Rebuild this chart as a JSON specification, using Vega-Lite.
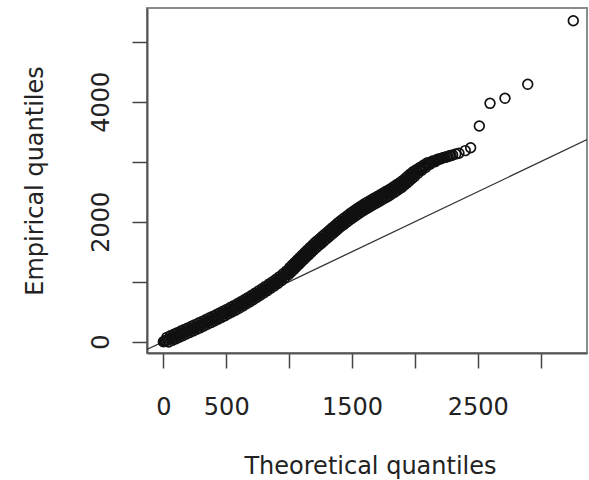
{
  "$schema": "https://vega.github.io/schema/vega-lite/v6.json",
  "width": 440,
  "height": 345,
  "autosize": "none",
  "padding": {"left": 147, "top": 8, "right": 2, "bottom": 127},
  "background": "white",
  "config": {"view": {"stroke": "#8c8c8c", "strokeWidth": 2}, "font": "DejaVu Sans"},
  "datasets": {
    "pts": [
      {"t":0,"e":0},{"t":14,"e":13},{"t":28,"e":72},{"t":42,"e":-5},{"t":56,"e":98},{"t":70,"e":22},{"t":84,"e":125},{"t":98,"e":48},{"t":112,"e":151},{"t":126,"e":75},
      {"t":140,"e":178},{"t":154,"e":101},{"t":168,"e":205},{"t":182,"e":128},{"t":196,"e":231},{"t":210,"e":155},{"t":224,"e":258},{"t":238,"e":181},{"t":252,"e":285},{"t":266,"e":208},
      {"t":280,"e":311},{"t":294,"e":234},{"t":308,"e":338},{"t":322,"e":262},{"t":336,"e":366},{"t":350,"e":290},{"t":364,"e":394},{"t":378,"e":318},{"t":392,"e":422},{"t":406,"e":346},
      {"t":420,"e":450},{"t":434,"e":375},{"t":448,"e":480},{"t":462,"e":405},{"t":476,"e":510},{"t":490,"e":434},{"t":504,"e":539},{"t":518,"e":465},{"t":532,"e":570},{"t":546,"e":496},
      {"t":560,"e":601},{"t":574,"e":526},{"t":588,"e":632},{"t":602,"e":557},{"t":616,"e":665},{"t":630,"e":593},{"t":644,"e":700},{"t":658,"e":628},{"t":672,"e":735},{"t":686,"e":663},
      {"t":700,"e":770},{"t":714,"e":699},{"t":728,"e":808},{"t":742,"e":737},{"t":756,"e":846},{"t":770,"e":775},{"t":784,"e":884},{"t":798,"e":812},{"t":812,"e":922},{"t":826,"e":852},
      {"t":840,"e":961},{"t":854,"e":891},{"t":868,"e":1000},{"t":882,"e":930},{"t":896,"e":1040},{"t":910,"e":971},{"t":924,"e":1085},{"t":938,"e":1019},{"t":952,"e":1133},{"t":966,"e":1067},
      {"t":980,"e":1181},{"t":994,"e":1115},
      {"t":7,"e":7},{"t":21,"e":20},{"t":35,"e":33},{"t":49,"e":47},{"t":63,"e":60},{"t":77,"e":73},{"t":91,"e":87},{"t":105,"e":100},{"t":119,"e":113},{"t":133,"e":126},
      {"t":147,"e":140},{"t":161,"e":153},{"t":175,"e":166},{"t":189,"e":180},{"t":203,"e":193},{"t":217,"e":206},{"t":231,"e":220},{"t":245,"e":233},{"t":259,"e":246},{"t":273,"e":260},
      {"t":287,"e":273},{"t":301,"e":286},{"t":315,"e":300},{"t":329,"e":314},{"t":343,"e":328},{"t":357,"e":342},{"t":371,"e":356},{"t":385,"e":370},{"t":399,"e":384},{"t":413,"e":398},
      {"t":427,"e":413},{"t":441,"e":427},{"t":455,"e":442},{"t":469,"e":457},{"t":483,"e":472},{"t":497,"e":487},{"t":511,"e":502},{"t":525,"e":517},{"t":539,"e":533},{"t":553,"e":548},
      {"t":567,"e":564},{"t":581,"e":579},{"t":595,"e":595},{"t":609,"e":611},{"t":623,"e":629},{"t":637,"e":646},{"t":651,"e":664},{"t":665,"e":681},{"t":679,"e":699},{"t":693,"e":716},
      {"t":707,"e":735},{"t":721,"e":753},{"t":735,"e":772},{"t":749,"e":791},{"t":763,"e":810},{"t":777,"e":829},{"t":791,"e":848},{"t":805,"e":867},{"t":819,"e":887},{"t":833,"e":906},
      {"t":847,"e":926},{"t":861,"e":945},{"t":875,"e":965},{"t":889,"e":985},{"t":903,"e":1005},{"t":917,"e":1028},{"t":931,"e":1052},{"t":945,"e":1076},{"t":959,"e":1100},{"t":973,"e":1124},
      {"t":987,"e":1148},
      {"t":1005,"e":1236},{"t":1015,"e":1157},{"t":1025,"e":1278},{"t":1035,"e":1199},{"t":1045,"e":1320},{"t":1055,"e":1241},{"t":1065,"e":1362},{"t":1075,"e":1283},{"t":1085,"e":1404},{"t":1095,"e":1325},
      {"t":1105,"e":1445},{"t":1115,"e":1366},{"t":1125,"e":1486},{"t":1135,"e":1407},{"t":1145,"e":1527},{"t":1155,"e":1448},{"t":1165,"e":1568},{"t":1175,"e":1489},{"t":1185,"e":1609},{"t":1195,"e":1530},
      {"t":1205,"e":1649},{"t":1215,"e":1567},{"t":1225,"e":1685},{"t":1235,"e":1603},{"t":1245,"e":1721},{"t":1255,"e":1639},{"t":1265,"e":1757},{"t":1275,"e":1675},{"t":1285,"e":1793},{"t":1295,"e":1711},
      {"t":1305,"e":1829},{"t":1315,"e":1747},{"t":1325,"e":1865},{"t":1335,"e":1783},{"t":1345,"e":1901},{"t":1355,"e":1819},{"t":1365,"e":1937},{"t":1375,"e":1855},{"t":1385,"e":1973},{"t":1395,"e":1891},
      {"t":1405,"e":2008},{"t":1415,"e":1924},{"t":1425,"e":2040},{"t":1435,"e":1956},{"t":1445,"e":2072},{"t":1455,"e":1988},{"t":1465,"e":2104},{"t":1475,"e":2020},{"t":1485,"e":2136},{"t":1495,"e":2052},
      {"t":1505,"e":2167},{"t":1515,"e":2081},{"t":1525,"e":2195},{"t":1535,"e":2109},{"t":1545,"e":2223},{"t":1555,"e":2137},{"t":1565,"e":2251},{"t":1575,"e":2165},{"t":1585,"e":2279},{"t":1595,"e":2193},
      {"t":1605,"e":2306},{"t":1615,"e":2218},{"t":1625,"e":2330},{"t":1635,"e":2242},{"t":1645,"e":2354},{"t":1655,"e":2266},{"t":1665,"e":2378},{"t":1675,"e":2290},{"t":1685,"e":2402},{"t":1695,"e":2314},
      {"t":1705,"e":2426},{"t":1715,"e":2338},{"t":1725,"e":2450},{"t":1735,"e":2362},{"t":1745,"e":2474},{"t":1755,"e":2386},{"t":1765,"e":2498},{"t":1775,"e":2410},{"t":1785,"e":2522},{"t":1795,"e":2434},
      {"t":1805,"e":2547},{"t":1815,"e":2461},{"t":1825,"e":2575},{"t":1835,"e":2489},{"t":1845,"e":2603},{"t":1855,"e":2517},{"t":1865,"e":2631},{"t":1875,"e":2545},{"t":1885,"e":2659},{"t":1895,"e":2573},
      {"t":1905,"e":2689},{"t":1915,"e":2607},{"t":1925,"e":2725},{"t":1935,"e":2643},{"t":1945,"e":2761},{"t":1955,"e":2679},{"t":1965,"e":2797},{"t":1975,"e":2715},{"t":1985,"e":2833},{"t":1995,"e":2751},
      {"t":1000,"e":1175},{"t":1010,"e":1196},{"t":1020,"e":1217},{"t":1030,"e":1238},{"t":1040,"e":1259},{"t":1050,"e":1280},{"t":1060,"e":1301},{"t":1070,"e":1322},{"t":1080,"e":1343},{"t":1090,"e":1364},
      {"t":1100,"e":1385},{"t":1110,"e":1405},{"t":1120,"e":1426},{"t":1130,"e":1446},{"t":1140,"e":1467},{"t":1150,"e":1488},{"t":1160,"e":1508},{"t":1170,"e":1529},{"t":1180,"e":1549},{"t":1190,"e":1570},
      {"t":1200,"e":1590},{"t":1210,"e":1608},{"t":1220,"e":1626},{"t":1230,"e":1644},{"t":1240,"e":1662},{"t":1250,"e":1680},{"t":1260,"e":1698},{"t":1270,"e":1716},{"t":1280,"e":1734},{"t":1290,"e":1752},
      {"t":1300,"e":1770},{"t":1310,"e":1788},{"t":1320,"e":1806},{"t":1330,"e":1824},{"t":1340,"e":1842},{"t":1350,"e":1860},{"t":1360,"e":1878},{"t":1370,"e":1896},{"t":1380,"e":1914},{"t":1390,"e":1932},
      {"t":1400,"e":1950},{"t":1410,"e":1966},{"t":1420,"e":1982},{"t":1430,"e":1998},{"t":1440,"e":2014},{"t":1450,"e":2030},{"t":1460,"e":2046},{"t":1470,"e":2062},{"t":1480,"e":2078},{"t":1490,"e":2094},
      {"t":1500,"e":2110},{"t":1510,"e":2124},{"t":1520,"e":2138},{"t":1530,"e":2152},{"t":1540,"e":2166},{"t":1550,"e":2180},{"t":1560,"e":2194},{"t":1570,"e":2208},{"t":1580,"e":2222},{"t":1590,"e":2236},
      {"t":1600,"e":2250},{"t":1610,"e":2262},{"t":1620,"e":2274},{"t":1630,"e":2286},{"t":1640,"e":2298},{"t":1650,"e":2310},{"t":1660,"e":2322},{"t":1670,"e":2334},{"t":1680,"e":2346},{"t":1690,"e":2358},
      {"t":1700,"e":2370},{"t":1710,"e":2382},{"t":1720,"e":2394},{"t":1730,"e":2406},{"t":1740,"e":2418},{"t":1750,"e":2430},{"t":1760,"e":2442},{"t":1770,"e":2454},{"t":1780,"e":2466},{"t":1790,"e":2478},
      {"t":1800,"e":2490},{"t":1810,"e":2504},{"t":1820,"e":2518},{"t":1830,"e":2532},{"t":1840,"e":2546},{"t":1850,"e":2560},{"t":1860,"e":2574},{"t":1870,"e":2588},{"t":1880,"e":2602},{"t":1890,"e":2616},
      {"t":1900,"e":2630},{"t":1910,"e":2648},{"t":1920,"e":2666},{"t":1930,"e":2684},{"t":1940,"e":2702},{"t":1950,"e":2720},{"t":1960,"e":2738},{"t":1970,"e":2756},{"t":1980,"e":2774},{"t":1990,"e":2792},
      {"t":2010,"e":2865},{"t":2025,"e":2808},{"t":2040,"e":2905},{"t":2055,"e":2858},{"t":2070,"e":2945},{"t":2085,"e":2903},{"t":2100,"e":2985},{"t":2120,"e":2958},{"t":2140,"e":3011},{"t":2160,"e":3000},
      {"t":2180,"e":3040},{"t":2200,"e":3045},{"t":2225,"e":3065},{"t":2250,"e":3080},{"t":2275,"e":3098},{"t":2300,"e":3112},{"t":2325,"e":3128},{"t":2350,"e":3142},{"t":2400,"e":3185},{"t":2443,"e":3233},
      {"t":2000,"e":2810},{"t":2018,"e":2837},{"t":2033,"e":2860},{"t":2048,"e":2882},{"t":2063,"e":2905},{"t":2078,"e":2927},{"t":2093,"e":2950},{"t":2110,"e":2969},{"t":2130,"e":2987},{"t":2150,"e":3005},
      {"t":2170,"e":3023},{"t":2190,"e":3041},{"t":2212,"e":3058},{"t":2237,"e":3073},{"t":2262,"e":3088},{"t":2287,"e":3103},
      {"t":2512,"e":3595},{"t":2597,"e":3973},{"t":2716,"e":4057},{"t":2897,"e":4290},{"t":3259,"e":5350}
    ],
    "ref": [{"t":-130,"e":-130},{"t":3368,"e":3368}]
  },
  "encoding": {
    "x": {
      "field": "t", "type": "quantitative",
      "scale": {"domain": [-130, 3368], "nice": false, "zero": false},
      "axis": {
        "title": "Theoretical quantiles",
        "values": [0, 500, 1000, 1500, 2000, 2500, 3000],
        "format": "d",
        "labelExpr": "datum.value == 1000 || datum.value == 2000 || datum.value == 3000 ? '' : datum.label",
        "grid": false,
        "tickSize": 15, "tickColor": "#444", "tickWidth": 1.5,
        "domainColor": "#555", "domainWidth": 2,
        "labelFont": "DejaVu Sans", "labelFontSize": 24, "labelColor": "#222",
        "labelPadding": 46, "labelBaseline": "alphabetic", "labelFlush": false, "labelOverlap": false,
        "titleFont": "DejaVu Sans", "titleFontSize": 24, "titleFontWeight": "normal", "titleColor": "#222",
        "titleX": 223, "titleY": 120, "titleBaseline": "alphabetic", "titleAlign": "center"
      }
    },
    "y": {
      "field": "e", "type": "quantitative",
      "scale": {"domain": [-188, 5562], "nice": false, "zero": false},
      "axis": {
        "title": "Empirical quantiles",
        "values": [0, 1000, 2000, 3000, 4000, 5000],
        "format": "d",
        "labelExpr": "datum.value == 1000 || datum.value == 3000 || datum.value == 5000 ? '' : datum.label",
        "grid": false,
        "tickSize": 15, "tickColor": "#444", "tickWidth": 1.5,
        "domainColor": "#555", "domainWidth": 2,
        "labelFont": "DejaVu Sans", "labelFontSize": 24, "labelColor": "#222",
        "labelAngle": -90, "labelAlign": "center", "labelBaseline": "alphabetic",
        "labelPadding": 24, "labelFlush": false, "labelOverlap": false,
        "titleFont": "DejaVu Sans", "titleFontSize": 24, "titleFontWeight": "normal", "titleColor": "#222",
        "titleAngle": -90, "titleX": -105, "titleY": 172.5, "titleBaseline": "alphabetic", "titleAlign": "center"
      }
    }
  },
  "layer": [
    {
      "data": {"name": "ref"},
      "mark": {"type": "line", "color": "#333", "strokeWidth": 1.3, "clip": true}
    },
    {
      "data": {"name": "pts"},
      "mark": {"type": "point", "shape": "circle", "filled": false, "size": 95, "strokeWidth": 1.7, "color": "#111", "opacity": 1, "clip": true}
    }
  ]
}
